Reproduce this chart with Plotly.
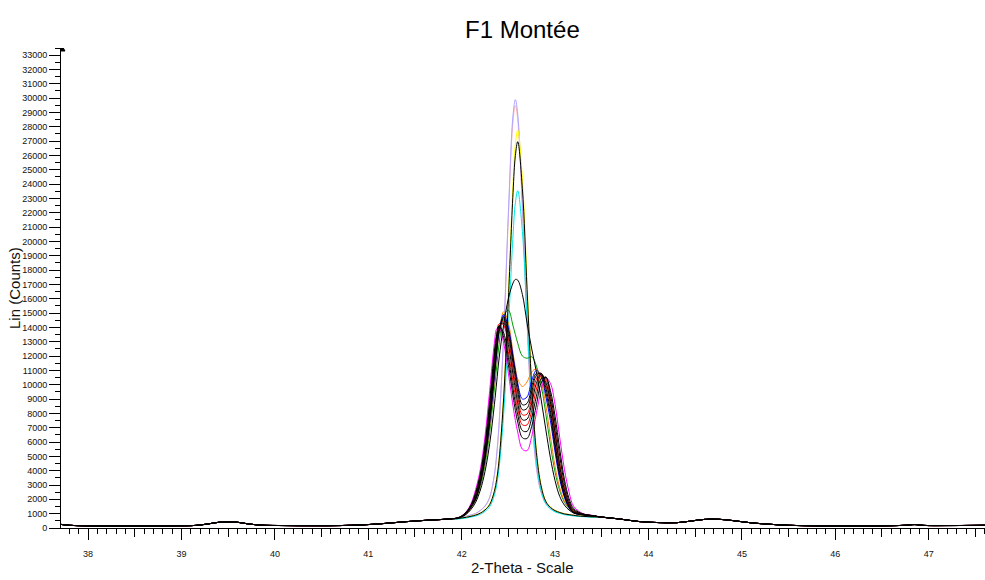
import plotly.graph_objects as go

# background (shared by all scans) left and right of the main reflection
X_LEFT = [37.71, 37.8, 38.0, 38.3, 38.6, 38.9, 39.15, 39.3, 39.4, 39.5, 39.6, 39.7, 39.85,
          40.1, 40.4, 40.7, 41.0, 41.2, 41.4, 41.6, 41.8, 41.9]
Y_LEFT = [250, 190, 150, 140, 140, 150, 180, 300, 400, 430, 400, 300, 200,
          170, 160, 170, 240, 330, 440, 530, 600, 650]

X_RIGHT = [43.5, 43.7, 43.9, 44.1, 44.3, 44.45, 44.6, 44.75, 44.9, 45.1, 45.3, 45.5,
           45.8, 46.1, 46.5, 46.75, 46.85, 46.95, 47.2, 47.61]
Y_RIGHT = [760, 620, 450, 380, 370, 480, 600, 610, 520, 360, 260, 190,
           150, 140, 150, 190, 240, 180, 170, 190]

# 2-theta grid of the peak region
X_PEAK = [41.95, 42.0, 42.05, 42.1, 42.15, 42.2, 42.25, 42.3, 42.35, 42.375, 42.4, 42.45,
          42.5, 42.55, 42.575, 42.6, 42.65, 42.7, 42.75, 42.8, 42.85, 42.9, 42.95, 43.0,
          43.05, 43.1, 43.15, 43.2, 43.3, 43.4]

# counts on X_PEAK, one list per scan
magenta = [700, 850, 1150, 1700, 2700, 4100, 6400, 9600, 12900, 13900, 14000, 12900,
           10800, 8500, 7500, 6700, 5500, 5400, 6400, 8000, 9600, 10500, 10100, 8600,
           6300, 4100, 2500, 1500, 1000, 880]
black1 = [700, 840, 1120, 1600, 2500, 3800, 5900, 8900, 12300, 13500, 14100, 13300,
          11400, 9200, 8200, 7400, 6300, 6250, 7100, 8600, 10100, 10550, 9600, 7800,
          5500, 3400, 2050, 1350, 980, 870]
black2 = [690, 830, 1100, 1570, 2400, 3700, 5700, 8600, 12000, 13400, 14100, 13600,
          11900, 9700, 8700, 7900, 6800, 6750, 7700, 9200, 10400, 10500, 9300, 7300,
          5000, 3100, 1850, 1250, 970, 860]
red1 = [690, 820, 1080, 1540, 2300, 3550, 5500, 8300, 11700, 13100, 14250, 14150,
        12300, 10200, 9200, 8300, 7200, 7200, 8200, 9700, 10650, 10400, 9000, 6800,
        4500, 2800, 1700, 1200, 960, 860]
black3 = [680, 810, 1060, 1500, 2200, 3450, 5300, 8100, 11500, 12950, 14100, 14300,
          12800, 10700, 9700, 8700, 7550, 7600, 8700, 10100, 10750, 10200, 8800, 6600,
          4300, 2650, 1650, 1150, 950, 850]
red2 = [680, 810, 1050, 1480, 2150, 3350, 5200, 7900, 11200, 12800, 14000, 14450,
        13200, 11100, 10100, 9100, 7900, 7950, 9100, 10400, 10800, 10000, 8600, 6200,
        4000, 2450, 1550, 1100, 940, 850]
black4 = [680, 805, 1040, 1470, 2100, 3250, 5050, 7700, 11000, 12600, 13900, 14600,
          13500, 11500, 10500, 9500, 8250, 8350, 9500, 10650, 10800, 9800, 8200, 5900,
          3800, 2350, 1500, 1080, 930, 850]
black5 = [680, 800, 1030, 1460, 2000, 3100, 4800, 7400, 10700, 12300, 13700, 14750,
          13800, 11800, 10850, 9900, 8600, 8700, 9900, 10800, 10700, 9500, 7900, 5600,
          3600, 2250, 1450, 1060, 930, 850]
blue = [680, 800, 1030, 1450, 2050, 3150, 4850, 7300, 10500, 12200, 13700, 14900,
        14000, 12000, 11000, 10100, 9000, 9150, 10300, 11000, 10600, 9200, 7500, 5300,
        3400, 2150, 1400, 1050, 930, 850]
orange = [680, 800, 1000, 1400, 2000, 3050, 4700, 7100, 10300, 12100, 13600, 15100,
          14300, 12200, 11200, 10400, 9880, 10200, 10900, 11100, 10300, 8600, 6400, 4300,
          2800, 1900, 1400, 1150, 950, 850]
green = [670, 790, 1000, 1400, 1950, 2900, 4400, 6700, 9700, 11300, 12800, 14800,
         15200, 14100, 13500, 12900, 12000, 11850, 11950, 11300, 10000, 8000, 5800, 3900,
         2600, 1800, 1350, 1100, 930, 840]
black6 = [660, 770, 960, 1300, 1800, 2650, 3950, 5900, 8600, 10200, 11800, 14200,
          16000, 17100, 17350, 17300, 16300, 14300, 12500, 10900, 9000, 6900, 4900, 3300,
          2200, 1600, 1250, 1050, 900, 830]
cyan = [620, 660, 700, 770, 840, 960, 1160, 1490, 2280, 3020, 4150, 8010,
        13970, 20450, 22700, 23540, 20690, 14560, 8670, 4670, 2620, 1690, 1330, 1120,
        1020, 930, 880, 840, 790, 750]
black7 = [650, 700, 750, 820, 900, 1040, 1260, 1640, 2550, 3400, 4700, 9130,
          15970, 23410, 26000, 26960, 23680, 16650, 9880, 5280, 2940, 1860, 1440, 1210,
          1080, 980, 930, 880, 810, 780]
yellow = [650, 710, 760, 830, 920, 1060, 1290, 1680, 2610, 3490, 4830, 9390,
          16440, 24110, 26780, 27770, 24390, 17140, 10170, 5430, 3010, 1900, 1470, 1230,
          1100, 995, 940, 890, 820, 780]
pink = [690, 745, 815, 905, 1010, 1220, 1515, 2125, 3675, 5090, 7150, 13390,
        21700, 28430, 29490, 28490, 22240, 14240, 7930, 4200, 2490, 1720, 1380, 1200,
        1070, 985, 935, 895, 815, 785]
lavender = [690, 750, 820, 910, 1020, 1230, 1530, 2150, 3720, 5160, 7250, 13580,
            22000, 28830, 29900, 28890, 22550, 14440, 8040, 4250, 2520, 1740, 1390, 1210,
            1080, 990, 940, 900, 820, 790]

# drawing order (last on top)
scans = [
    (pink, '#ffb4b4'), (lavender, '#b0a4ff'), (yellow, '#ffff00'), (cyan, '#00e8e8'),
    (green, '#00a000'), (orange, '#ff8000'), (blue, '#0000ff'), (magenta, '#ff00ff'),
    (red1, '#ff0000'), (red2, '#ff0000'), (black6, '#000000'), (black7, '#000000'),
    (black1, '#000000'), (black2, '#000000'), (black3, '#000000'), (black4, '#000000'),
    (black5, '#000000'),
]

fig = go.Figure()

for counts, colour in scans:
    fig.add_trace(go.Scatter(
        x=X_LEFT + X_PEAK + X_RIGHT,
        y=Y_LEFT + counts + Y_RIGHT,
        mode='lines',
        line=dict(color=colour, width=1, shape='spline', smoothing=1.0),
        hoverinfo='skip',
    ))

# empty trace so the half-degree tick axis is drawn
fig.add_trace(go.Scatter(x=[], y=[], xaxis='x2', showlegend=False))

X_RANGE = [37.71, 47.603]
Y_RANGE = [0, 33500]

fig.update_layout(
    width=985, height=580,
    margin=dict(l=61, r=0, t=48, b=52),
    plot_bgcolor='white', paper_bgcolor='white',
    showlegend=False,
    font=dict(family='Arial, Liberation Sans, sans-serif', color='#111111'),
    xaxis=dict(
        range=X_RANGE, showline=True, linecolor='black', linewidth=1,
        ticks='outside', ticklen=11, tickwidth=1, tickcolor='black',
        tick0=38, dtick=1, tickfont=dict(size=9), ticklabelstandoff=6,
        minor=dict(ticks='outside', dtick=0.1, ticklen=5, tickcolor='black'),
        showgrid=False, zeroline=False,
    ),
    xaxis2=dict(
        range=X_RANGE, overlaying='x', anchor='y', side='bottom',
        ticks='outside', ticklen=8, tickcolor='black', tick0=37.5, dtick=0.5,
        showticklabels=False, showline=False, showgrid=False, zeroline=False,
    ),
    yaxis=dict(
        range=Y_RANGE, showline=True, linecolor='black', linewidth=1,
        ticks='outside', ticklen=11, tickwidth=1, tickcolor='black',
        tick0=0, dtick=1000, tickformat='d', tickfont=dict(size=9),
        minor=dict(ticks='outside', dtick=500, ticklen=5, tickcolor='black'),
        showgrid=False, zeroline=False,
    ),
    annotations=[
        dict(text='F1 Montée', x=0.499, y=1.0375, xref='paper', yref='paper',
             showarrow=False, font=dict(size=24, color='black'),
             xanchor='center', yanchor='middle'),
        dict(text='2-Theta - Scale', x=0.499, y=-0.0833, xref='paper', yref='paper',
             showarrow=False, font=dict(size=15, color='#111111'),
             xanchor='center', yanchor='middle'),
        dict(text='Lin (Counts)', x=-0.0509, y=0.5, xref='paper', yref='paper',
             showarrow=False, textangle=-90, font=dict(size=15, color='#111111'),
             xanchor='center', yanchor='middle'),
    ],
    shapes=[
        # little arrow head at the top of the y axis
        dict(type='path', xref='x', yref='y', xsizemode='pixel', ysizemode='pixel',
             xanchor=X_RANGE[0], yanchor=Y_RANGE[1],
             path='M 0 4 L 0 -3 L 4 -3 Z', fillcolor='black',
             line=dict(color='black', width=1)),
    ],
)

# no page margin, so the figure sits at the window's top-left corner
fig.write_html("out.html", config={'displayModeBar': False},
               post_script="document.body.style.margin='0';")
